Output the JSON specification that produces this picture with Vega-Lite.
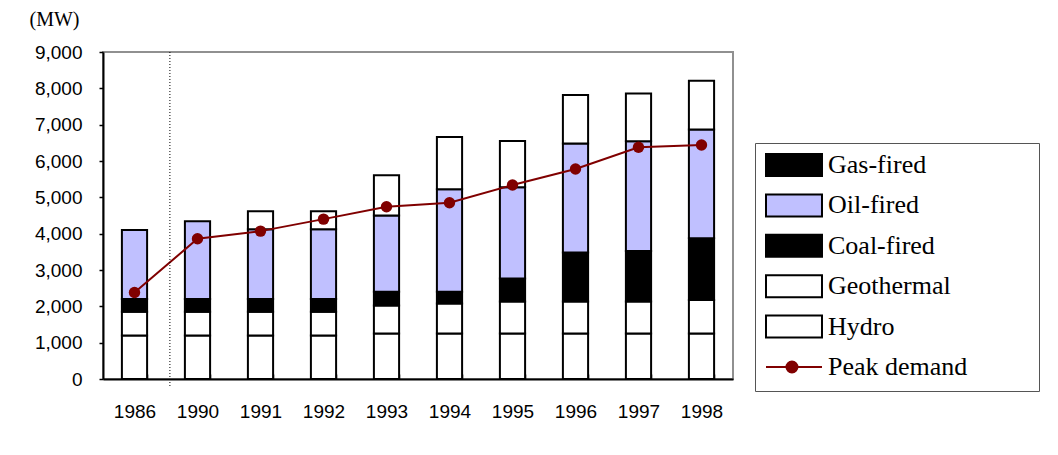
{
  "$schema": "https://vega.github.io/schema/vega-lite/v6.json",
  "width": 630,
  "height": 327,
  "autosize": {"type": "none"},
  "padding": {"left": 103, "top": 52, "right": 325, "bottom": 76},
  "background": "white",
  "config": {
    "view": {"fill": "#e2e2e2", "stroke": "#909090", "strokeWidth": 2},
    "axis": {
      "labelFont": "Liberation Sans",
      "labelFontSize": 19,
      "labelColor": "#000000",
      "domainColor": "#000000",
      "domainWidth": 2,
      "tickColor": "#000000",
      "tickWidth": 1.5,
      "grid": false
    },
    "axisX": {
      "title": null,
      "labelAngle": 0,
      "tickBand": "extent",
      "tickSize": -5,
      "labelPadding": 28
    },
    "axisY": {
      "values": [0, 1000, 2000, 3000, 4000, 5000, 6000, 7000, 8000, 9000],
      "format": ",.0f",
      "tickSize": 4,
      "labelPadding": 17,
      "titleAngle": 0,
      "titleFont": "Liberation Serif",
      "titleFontSize": 20,
      "titleFontWeight": "normal",
      "titleColor": "#000000",
      "titleAlign": "left",
      "titleBaseline": "alphabetic",
      "titleX": -74,
      "titleY": -27
    }
  },
  "datasets": {
    "capacity": [
      {"year": "1986", "type": "Hydro", "value": 1200, "ord": 1},
      {"year": "1986", "type": "Geothermal", "value": 650, "ord": 2},
      {"year": "1986", "type": "Coal-fired", "value": 350, "ord": 3},
      {"year": "1986", "type": "Oil-fired", "value": 1900, "ord": 4},
      {"year": "1990", "type": "Hydro", "value": 1200, "ord": 1},
      {"year": "1990", "type": "Geothermal", "value": 650, "ord": 2},
      {"year": "1990", "type": "Coal-fired", "value": 350, "ord": 3},
      {"year": "1990", "type": "Oil-fired", "value": 2140, "ord": 4},
      {"year": "1991", "type": "Hydro", "value": 1200, "ord": 1},
      {"year": "1991", "type": "Geothermal", "value": 650, "ord": 2},
      {"year": "1991", "type": "Coal-fired", "value": 350, "ord": 3},
      {"year": "1991", "type": "Oil-fired", "value": 1920, "ord": 4},
      {"year": "1991", "type": "Gas-fired", "value": 500, "ord": 5},
      {"year": "1992", "type": "Hydro", "value": 1200, "ord": 1},
      {"year": "1992", "type": "Geothermal", "value": 650, "ord": 2},
      {"year": "1992", "type": "Coal-fired", "value": 350, "ord": 3},
      {"year": "1992", "type": "Oil-fired", "value": 1920, "ord": 4},
      {"year": "1992", "type": "Gas-fired", "value": 500, "ord": 5},
      {"year": "1993", "type": "Hydro", "value": 1250, "ord": 1},
      {"year": "1993", "type": "Geothermal", "value": 770, "ord": 2},
      {"year": "1993", "type": "Coal-fired", "value": 380, "ord": 3},
      {"year": "1993", "type": "Oil-fired", "value": 2100, "ord": 4},
      {"year": "1993", "type": "Gas-fired", "value": 1110, "ord": 5},
      {"year": "1994", "type": "Hydro", "value": 1250, "ord": 1},
      {"year": "1994", "type": "Geothermal", "value": 830, "ord": 2},
      {"year": "1994", "type": "Coal-fired", "value": 320, "ord": 3},
      {"year": "1994", "type": "Oil-fired", "value": 2820, "ord": 4},
      {"year": "1994", "type": "Gas-fired", "value": 1440, "ord": 5},
      {"year": "1995", "type": "Hydro", "value": 1250, "ord": 1},
      {"year": "1995", "type": "Geothermal", "value": 880, "ord": 2},
      {"year": "1995", "type": "Coal-fired", "value": 635, "ord": 3},
      {"year": "1995", "type": "Oil-fired", "value": 2515, "ord": 4},
      {"year": "1995", "type": "Gas-fired", "value": 1270, "ord": 5},
      {"year": "1996", "type": "Hydro", "value": 1250, "ord": 1},
      {"year": "1996", "type": "Geothermal", "value": 880, "ord": 2},
      {"year": "1996", "type": "Coal-fired", "value": 1350, "ord": 3},
      {"year": "1996", "type": "Oil-fired", "value": 3005, "ord": 4},
      {"year": "1996", "type": "Gas-fired", "value": 1330, "ord": 5},
      {"year": "1997", "type": "Hydro", "value": 1250, "ord": 1},
      {"year": "1997", "type": "Geothermal", "value": 880, "ord": 2},
      {"year": "1997", "type": "Coal-fired", "value": 1395, "ord": 3},
      {"year": "1997", "type": "Oil-fired", "value": 3020, "ord": 4},
      {"year": "1997", "type": "Gas-fired", "value": 1315, "ord": 5},
      {"year": "1998", "type": "Hydro", "value": 1250, "ord": 1},
      {"year": "1998", "type": "Geothermal", "value": 925, "ord": 2},
      {"year": "1998", "type": "Coal-fired", "value": 1700, "ord": 3},
      {"year": "1998", "type": "Oil-fired", "value": 2995, "ord": 4},
      {"year": "1998", "type": "Gas-fired", "value": 1340, "ord": 5}
    ],
    "peak": [
      {"year": "1986", "peak": 2380},
      {"year": "1990", "peak": 3860},
      {"year": "1991", "peak": 4070},
      {"year": "1992", "peak": 4400},
      {"year": "1993", "peak": 4740},
      {"year": "1994", "peak": 4850},
      {"year": "1995", "peak": 5340},
      {"year": "1996", "peak": 5780},
      {"year": "1997", "peak": 6380},
      {"year": "1998", "peak": 6440}
    ],
    "series": [
      {"series": "Gas-fired"},
      {"series": "Oil-fired"},
      {"series": "Coal-fired"},
      {"series": "Geothermal"},
      {"series": "Hydro"},
      {"series": "Peak demand"}
    ]
  },
  "layer": [
    {
      "data": {"name": "capacity"},
      "mark": {"type": "bar", "stroke": "#000000", "strokeWidth": 2, "opacity": 1},
      "encoding": {
        "x": {
          "field": "year",
          "type": "nominal",
          "scale": {"type": "band", "paddingInner": 0.6, "paddingOuter": 0.3}
        },
        "y": {
          "field": "value",
          "type": "quantitative",
          "stack": "zero",
          "scale": {"domain": [0, 9000], "nice": false},
          "axis": {"title": "(MW)"}
        },
        "order": {"field": "ord", "type": "quantitative"},
        "color": {
          "field": "type",
          "type": "nominal",
          "scale": {
            "domain": ["Gas-fired", "Oil-fired", "Coal-fired", "Geothermal", "Hydro"],
            "range": ["#ffffff", "#c0c0ff", "#000000", "#ffffff", "#ffffff"]
          },
          "legend": null
        }
      }
    },
    {
      "data": {"name": "peak"},
      "mark": {"type": "line", "color": "#800000", "strokeWidth": 2, "point": {"filled": true, "size": 130, "opacity": 1, "color": "#800000"}},
      "encoding": {
        "x": {"field": "year", "type": "nominal"},
        "y": {
          "field": "peak",
          "type": "quantitative",
          "scale": {"domain": [0, 9000], "nice": false},
          "axis": {"title": "(MW)"}
        }
      }
    },
    {
      "data": {"values": [{"year": "1990"}]},
      "mark": {"type": "rule", "color": "#000000", "strokeWidth": 1, "strokeDash": [1, 2], "xOffset": -15, "y2Offset": 8},
      "encoding": {
        "x": {"field": "year", "type": "nominal", "bandPosition": 0},
        "y": {"datum": 9000},
        "y2": {"datum": 0}
      }
    },
    {
      "data": {"name": "series"},
      "mark": {"type": "point", "opacity": 0},
      "encoding": {
        "shape": {
          "field": "series",
          "type": "nominal",
          "scale": {
            "domain": ["Gas-fired", "Oil-fired", "Coal-fired", "Geothermal", "Hydro", "Peak demand"],
            "range": [
              "M-1,-1H4.09V1H-1ZM22.6,0",
              "M-1,-1H4.09V1H-1ZM22.6,0",
              "M-1,-1H4.09V1H-1ZM22.6,0",
              "M-1,-1H4.09V1H-1ZM22.6,0",
              "M-1,-1H4.09V1H-1ZM22.6,0",
              "M-1,0H4.09M0.86,0A0.5,0.5,0,1,0,1.86,0A0.5,0.5,0,1,0,0.86,0ZM22.6,0M-1,-1M-1,1"
            ]
          },
          "legend": {
            "title": null,
            "orient": "none",
            "legendX": 652,
            "legendY": 91,
            "padding": 9,
            "rowPadding": 10.4,
            "strokeColor": "#555555",
            "fillColor": "#ffffff",
            "symbolSize": 484,
            "symbolStrokeWidth": 2,
            "labelFont": "Liberation Serif",
            "labelFontSize": 26,
            "labelColor": "#000000",
            "labelOffset": 38,
            "labelLimit": 500,
            "encoding": {
              "symbols": {
                "fill": {"value": {"expr": "datum.value === 'Oil-fired' ? '#c0c0ff' : (datum.value === 'Geothermal' || datum.value === 'Hydro') ? '#ffffff' : datum.value === 'Peak demand' ? '#800000' : '#000000'"}},
                "stroke": {"value": {"expr": "datum.value === 'Peak demand' ? '#800000' : '#000000'"}},
                "strokeWidth": {"value": 2},
                "opacity": {"value": 1},
                "fillOpacity": {"value": 1},
                "strokeOpacity": {"value": 1}
              }
            }
          }
        }
      }
    }
  ]
}
